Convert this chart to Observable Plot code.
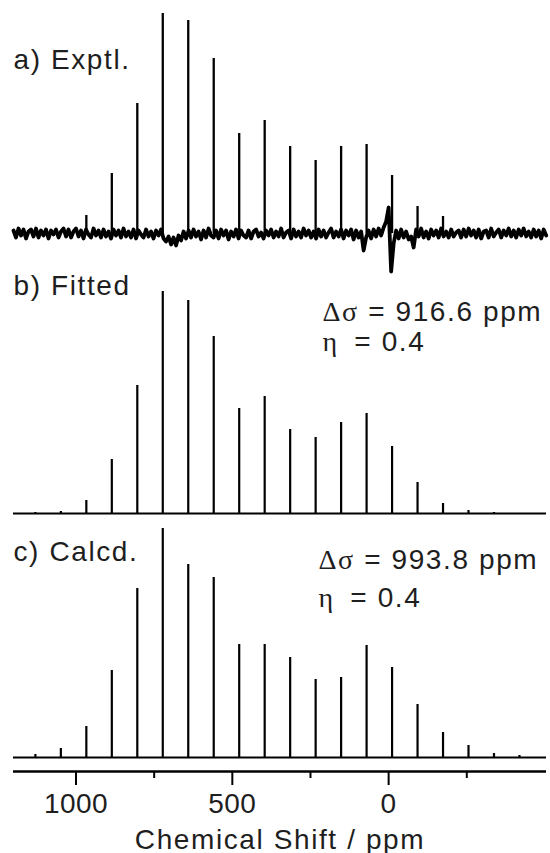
<!DOCTYPE html>
<html>
<head>
<meta charset="utf-8">
<script src="https://cdn.jsdelivr.net/npm/d3@7"></script>
<script src="https://cdn.jsdelivr.net/npm/@observablehq/plot@0.6"></script>
<style>
  body { margin: 0; background: #fff; }
  #chart svg { display: block; }
  g[aria-label="text"] text { letter-spacing: 1.6px; white-space: pre; }
  g[aria-label="x-axis tick label"] text { letter-spacing: 0.5px; }
</style>
</head>
<body>
<div id="chart"></div>
<script>
// Spinning sideband positions (ppm)
const sidebandPpm = [1130, 1048.5, 967, 885.5, 804, 722.5, 641, 559.5, 478, 396.5, 315, 233.5, 152, 70.5, -11, -92.5, -174, -255.5, -337, -418.5];
// Sideband intensities (a.u.) for each spectrum
const exptl  = [0, 0, 18, 60, 130, 220, 213, 175, 100, 113, 87, 73, 87, 89, 58, 27, 17, 0, 0, 0];
const fitted = [1, 2, 13, 54, 128, 222, 213, 177, 105, 117, 84, 76, 91, 100, 67, 31, 10, 3, 1, 0];
const calcd  = [3, 9, 31, 87, 169, 229, 193, 180, 113, 113, 100, 78, 80, 112, 90, 53, 25, 12, 4, 2];
// Experimental baseline noise (a.u.), sampled every 8 ppm from 1200 ppm downward
const noiseStartPpm = 1200;
const noiseStepPpm = 8;
const exptlNoise = [
  3,-4,5,-2,4,-5,2,4,-3,5,-4,3,-2,4,-5,3,-1,4,-4,2,
  5,-3,4,-4,2,5,-3,3,-5,4,-1,-4,5,-2,3,-4,4,-3,2,-5,
  4,-2,3,-4,5,-3,2,-4,4,-5,3,-1,-4,4,-3,2,-5,3,-2,4,
  -5,-8,-3,-11,-4,-12,-2,-7,2,-5,3,-4,4,-3,2,-6,3,-4,5,-2,
  -4,3,-5,4,-2,3,-6,2,-3,4,-5,3,-2,-4,3,-5,2,4,-3,1,
  -5,3,-2,4,-4,2,-3,5,-4,1,3,-5,4,-3,2,-4,5,-2,3,-4,
  2,-5,4,-3,3,-4,1,5,-4,2,-3,4,-5,3,-2,4,-6,3,-4,2,
  -17,-4,3,-5,4,-3,5,-2,6,12,26,-38,-10,3,-5,4,-4,2,-6,-3,
  -14,4,-3,5,-4,2,-5,4,-2,3,-4,5,-3,2,-4,4,-3,1,3,-4,
  4,-3,5,-2,3,-4,4,-5,2,3,-4,5,-3,1,4,-4,3,-2,5,-3,
  3,-4,4,-2,5,-3,2,-4,4,-3,3,-5,4,-2
];
// Axis ticks
const majorTicks = [1000, 500, 0];
const minorTicks = [750, 250, -250];
// Texts
const panelLabels = ["a) Exptl.", "b) Fitted", "c) Calcd."];
const fitParams = ["Δσ = 916.6 ppm", "η\u2002= 0.4"];
const calcParams = ["Δσ = 993.8 ppm", "η\u2002= 0.4"];
const xLabel = "Chemical Shift / ppm";

// stacking offsets of the three traces (a.u.)
const offA = 538, offB = 258, offC = 14;

const peaks = (vals, off) => sidebandPpm.map((p, i) => ({ppm: p, y1: off, y2: off + vals[i]})).filter(d => d.y2 > d.y1);
const noiseData = exptlNoise.map((v, i) => ({ppm: noiseStartPpm - i * noiseStepPpm, y: offA + v}));

const font = 28;
const txt = (s, dx, dy) => Plot.text([s], {text: d => d, frameAnchor: "top-left", textAnchor: "start", lineAnchor: "bottom", dx, dy, fontSize: font, fill: "#1e1e1e"});

const chart = Plot.plot({
  width: 550,
  height: 853,
  marginLeft: 13,
  marginRight: 4,
  marginTop: 0,
  marginBottom: 82,
  style: {fontFamily: '"Liberation Sans", Arial, Helvetica, sans-serif', color: "#1e1e1e", background: "#fff"},
  x: {domain: [1200, -505], label: null},
  y: {domain: [0, 771], axis: null},
  marks: [
    // spectrum a
    Plot.line(noiseData, {x: "ppm", y: "y", stroke: "black", strokeWidth: 3.8, strokeLinejoin: "round"}),
    Plot.ruleX(peaks(exptl, offA), {x: "ppm", y1: "y1", y2: "y2", stroke: "black", strokeWidth: 2.3}),
    // spectrum b
    Plot.ruleY([offB], {stroke: "black", strokeWidth: 2}),
    Plot.ruleX(peaks(fitted, offB), {x: "ppm", y1: "y1", y2: "y2", stroke: "black", strokeWidth: 2.2}),
    // spectrum c
    Plot.ruleY([offC], {stroke: "black", strokeWidth: 2}),
    Plot.ruleX(peaks(calcd, offC), {x: "ppm", y1: "y1", y2: "y2", stroke: "black", strokeWidth: 2.2}),
    // axis
    Plot.ruleY([0], {stroke: "black", strokeWidth: 2.5}),
    Plot.axisX(majorTicks, {tickSize: 14, tickPadding: 8, fontSize: font, strokeWidth: 2, stroke: "black", label: null, tickFormat: d => String(d)}),
    Plot.axisX(minorTicks, {tickSize: 7, strokeWidth: 2, stroke: "black", label: null, tickFormat: () => ""}),
    // texts
    txt(panelLabels[0], 0, 68),
    txt(panelLabels[1], 0, 294),
    txt(panelLabels[2], 0, 560),
    txt(fitParams[0], 309, 320),
    txt(fitParams[1], 309, 350),
    txt(calcParams[0], 305, 568),
    txt(calcParams[1], 305, 606),
    Plot.text([xLabel], {text: d => d, frameAnchor: "bottom", lineAnchor: "bottom", dy: 77, fontSize: font, fill: "#1e1e1e"})
  ]
});

// Greek symbols in a serif face, as in the original
d3.select(chart).selectAll('g[aria-label="text"] text').each(function () {
  const t = this.textContent;
  const m = t.match(/^([Δση]+)(.*)$/);
  if (m) {
    const s = d3.select(this);
    s.text(null);
    s.append("tspan").attr("font-family", '"Liberation Serif", "Times New Roman", serif').text(m[1]);
    s.append("tspan").text(m[2]);
  }
});

document.getElementById("chart").appendChild(chart);
</script>
</body>
</html>
